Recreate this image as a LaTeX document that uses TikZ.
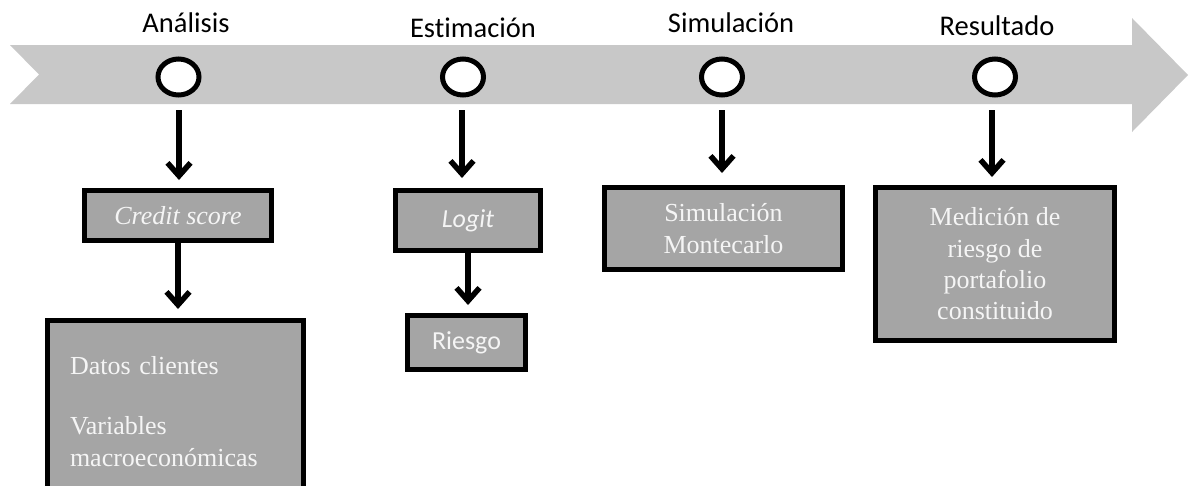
\documentclass[tikz,border=0pt]{standalone}
\usepackage{fontspec}
\setmainfont{Liberation Serif}
\newfontfamily\calfont[Ligatures=NoCommon]{Carlito}
\usetikzlibrary{arrows.meta,shapes.geometric}
\definecolor{bandgray}{RGB}{200,200,200}
\definecolor{boxgray}{RGB}{165,165,165}
\definecolor{boxtext}{RGB}{245,245,245}
\begin{document}
\begin{tikzpicture}[x=1pt,y=-1pt,
  box/.style={draw=black, line width=5pt, fill=boxgray, text=boxtext, inner sep=0pt, align=center},
  tm/.style={font=\fontsize{26}{31.3}\selectfont},
  cb/.style={font=\calfont\fontsize{26}{31}\selectfont},
  lab/.style={font=\calfont\fontsize{28.5}{34}\selectfont, anchor=base, inner sep=0pt},
  dot/.style={ellipse, draw=black, line width=5pt, fill=white, minimum width=41pt, minimum height=36pt, inner sep=0pt},
  arr/.style={line width=5.5pt, -{Straight Barb[length=13pt,width=23pt,line join=miter]},
    preaction={draw=black!40, transform canvas={shift={(1.5pt,-1.5pt)}}}},
]
\useasboundingbox (0,0) rectangle (1189,485);
\clip (0,0) rectangle (1189,485);
\fill[bandgray] (10,45) -- (1132,45) -- (1132,18) -- (1188,75) -- (1132,132) -- (1132,104) -- (10,104) -- (39,74.5) -- cycle;

\node[dot] (c1) at (178.5,77) {};
\node[dot] (c2) at (463,77) {};
\node[dot] (c3) at (722,77) {};
\node[dot] (c4) at (995,77) {};

\node[lab] (l1) at (186,32) {Análisis};
\node[lab] (l2) at (473,37) {Estimación};
\node[lab] (l3) at (731,32) {Simulación};
\node[lab] (l4) at (997,35) {Resultado};

\coordinate (s1) at (179,110);
\coordinate (s2) at (462,110);
\coordinate (s3) at (722,110);
\coordinate (s4) at (992,110);

\node[box,tm, minimum width=187pt, minimum height=50pt] (credit) at (178,215.5) {\textit{Credit score}};
\node[box,cb, minimum width=145pt, minimum height=60pt] (logit) at (468,220.5) {\textit{Logit}};
\node[box,cb, minimum width=118pt, minimum height=54pt] (riesgo) at (466.5,342.5) {Riesgo};
\node[box,tm, minimum width=238pt, minimum height=82pt] (simul) at (723.5,228.5) {Simulación\\Montecarlo};
\node[box,tm, minimum width=239pt, minimum height=153pt] (medic) at (995,264) {Medición de\\riesgo de\\portafolio\\constituido};
\node[box,tm, minimum width=256pt, minimum height=182pt, text width=211pt, align=left] (datos) at (175.5,411.5) {Datos clientes\\[29pt]Variables\\macroeconómicas};

\draw[arr, shorten >=8pt] (s1) -- (s1 |- credit.north);
\draw[arr, shorten >=9pt] (credit.south) -- (credit.south |- datos.north);
\draw[arr, shorten >=10pt] (s2) -- (s2 |- logit.north);
\draw[arr, shorten >=8pt] (logit.south) -- (logit.south |- riesgo.north);
\draw[arr, shorten >=12pt] (s3) -- (s3 |- simul.north);
\draw[arr, shorten >=8pt] (s4) -- (s4 |- medic.north);
\end{tikzpicture}
\end{document}
